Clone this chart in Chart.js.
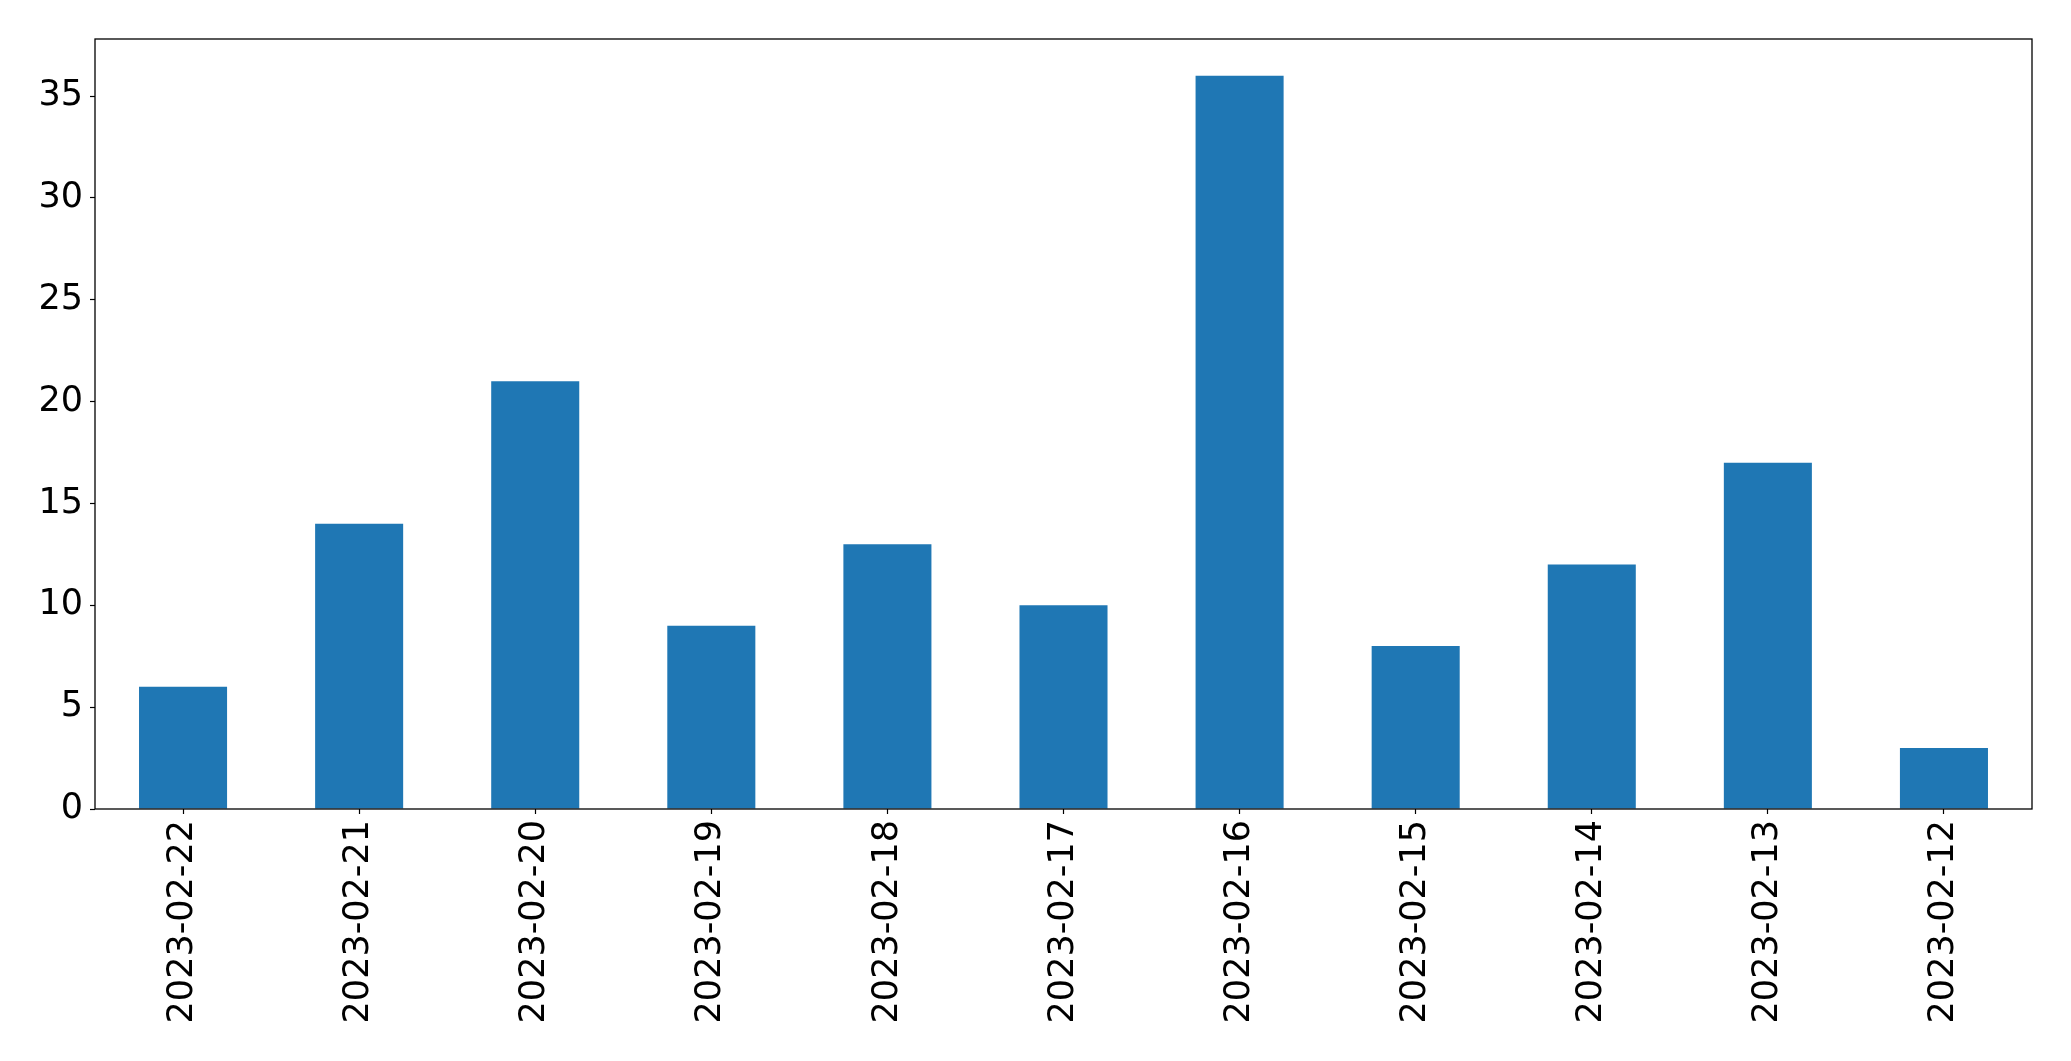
<!DOCTYPE html>
<html>
<head>
<meta charset="utf-8">
<script src="https://cdn.jsdelivr.net/npm/chart.js@4/dist/chart.umd.min.js"></script>
<style>
  html, body { margin: 0; padding: 0; background: #fff; }
  canvas { display: block; }
</style>
</head>
<body>
<canvas id="chart" width="2071" height="1061"></canvas>
<script>
// data
const dates = ["2023-02-22", "2023-02-21", "2023-02-20", "2023-02-19", "2023-02-18", "2023-02-17",
  "2023-02-16", "2023-02-15", "2023-02-14", "2023-02-13", "2023-02-12"];
const counts = [6, 14, 21, 9, 13, 10, 36, 8, 12, 17, 3];
const yMax = 37.8;
const yStep = 5;

// box round the plot area, like a matplotlib axes frame
const frame = {
  id: "frame",
  afterDraw(chart) {
    const a = chart.chartArea;
    const ctx = chart.ctx;
    ctx.save();
    ctx.strokeStyle = "#000";
    ctx.lineWidth = 1.3;
    ctx.strokeRect(a.left, a.top, a.right - a.left, a.bottom - a.top);
    ctx.restore();
  }
};

new Chart(document.getElementById("chart"), {
  type: "bar",
  data: {
    labels: dates,
    datasets: [{
      data: counts,
      backgroundColor: "#1f77b4",
      barPercentage: 0.5,
      categoryPercentage: 1.0
    }]
  },
  options: {
    responsive: false,
    devicePixelRatio: 1,
    animation: false,
    layout: { padding: { top: 39, right: 39, left: 0, bottom: 0 } },
    plugins: { legend: { display: false }, tooltip: { enabled: false } },
    scales: {
      x: {
        grid: { display: true, drawOnChartArea: false, drawTicks: true, tickLength: 5, tickWidth: 1.2, tickColor: "#000", offset: false },
        border: { display: false },
        ticks: {
          minRotation: 90, maxRotation: 90, padding: 6, color: "#000",
          font: { family: "DejaVu Sans", size: 35 }
        },
        afterFit(scale) { scale.height = 252; }
      },
      y: {
        min: 0,
        max: yMax,
        grid: { display: true, drawOnChartArea: false, drawTicks: true, tickLength: 5, tickWidth: 1.2, tickColor: "#000" },
        border: { display: false },
        ticks: {
          stepSize: yStep, includeBounds: false, padding: 7, color: "#000",
          font: { family: "DejaVu Sans", size: 35 }
        },
        afterFit(scale) { scale.width = 95; }
      }
    }
  },
  plugins: [frame]
});
</script>
</body>
</html>
